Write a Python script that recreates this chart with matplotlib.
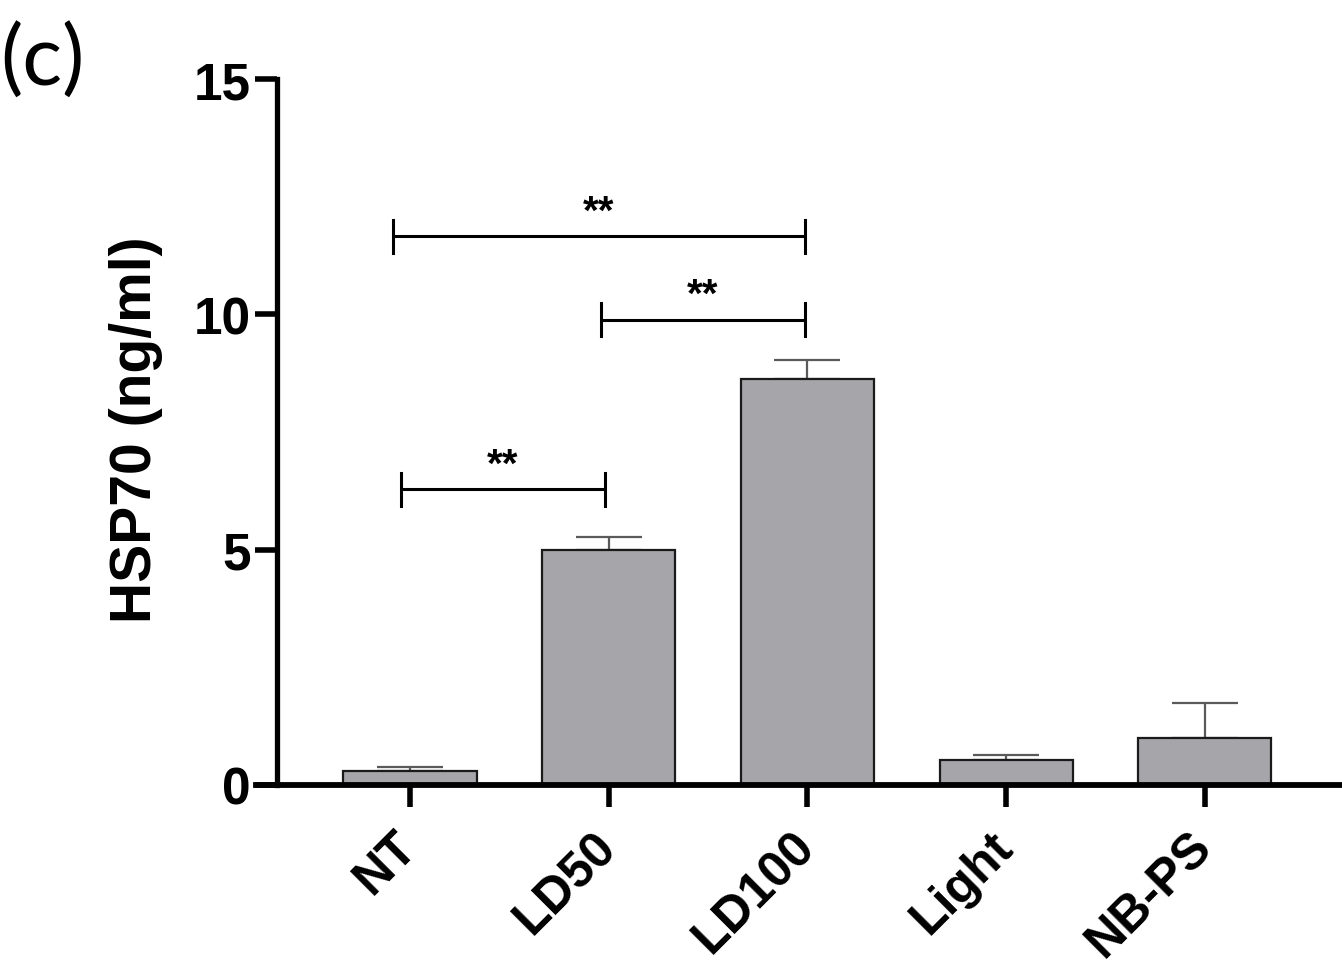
import numpy as np
import matplotlib.pyplot as plt

# datos
grupos = ['NT', 'LD50', 'LD100', 'Light', 'NB-PS']
medias = [0.30, 5.00, 8.62, 0.53, 1.00]
errores = [0.08, 0.26, 0.42, 0.11, 0.74]

# comparaciones significativas: (grupo a, grupo b, altura, texto)
comparaciones = [(0, 2, 11.66, '**'),
                 (1, 2, 9.89, '**'),
                 (0, 1, 6.28, '**')]
# pequeños desplazamientos de los extremos respecto al centro de la barra
desplaz = {(0, 2): (-0.086, -0.013),
           (1, 2): (-0.039, -0.013),
           (0, 1): (-0.045, -0.019)}

plt.rcParams['font.family'] = ['Liberation Sans', 'DejaVu Sans']

fig = plt.figure(figsize=(13.42, 9.70), dpi=100)
ax = fig.add_axes([256 / 1342, 1 - 786 / 970, 1 - 256 / 1342, (786 - 80) / 970])

# el eje y se coloca antes de dar formato a las marcas (set_position las reinicia)
ax.spines['top'].set_visible(False)
ax.spines['right'].set_visible(False)
ax.spines['left'].set_position(('data', -0.669))
ax.spines['left'].set_linewidth(3.8)
ax.spines['bottom'].set_linewidth(4.2)

x = np.arange(len(grupos))
ax.bar(x, medias, width=0.67, color='#a6a5aa', edgecolor='#1a1a1a',
       linewidth=1.6, zorder=2)
ax.errorbar(x, medias, yerr=[np.zeros(len(errores)), errores], fmt='none',
            ecolor='#5a5a5a', elinewidth=1.6, capsize=24, capthick=1.6, zorder=1)

for a, b, y, txt in comparaciones:
    da, db = desplaz[(a, b)]
    xa, xb = a + da, b + db
    ax.plot([xa, xb], [y, y], color='black', lw=2.2, solid_capstyle='butt')
    ax.plot([xa, xa], [y - 0.35, y + 0.35], color='black', lw=2.2)
    ax.plot([xb, xb], [y - 0.35, y + 0.35], color='black', lw=2.2)
    ax.text((xa + xb) / 2, y + 0.12, txt, ha='center', va='bottom',
            fontsize=29, fontweight='bold')

ax.set_xlim(-0.775, 4.69)
ax.set_ylim(0, 15)
ax.set_yticks([0, 5, 10, 15])
ax.set_yticklabels(['0', '5', '10', '15'], fontsize=37, fontweight='bold')
ax.set_xticks(x)
ax.set_xticklabels(grupos, rotation=45, ha='right', va='center',
                   rotation_mode='anchor', fontsize=36, fontweight='bold')

ax.tick_params(axis='both', length=16, width=4, color='black')
ax.tick_params(axis='x', pad=23)
ax.tick_params(axis='y', pad=3)

fig.text(136 / 1342, 1 - 430 / 970, 'HSP70 (ng/ml)', rotation=90,
         fontsize=41, fontweight='bold', ha='center', va='center')

fig.text(0.0, 1 - 24 / 970, '(c)', fontsize=60, family=['Lato', 'DejaVu Sans'],
         ha='left', va='top')

fig.savefig('out.png', dpi=100)
